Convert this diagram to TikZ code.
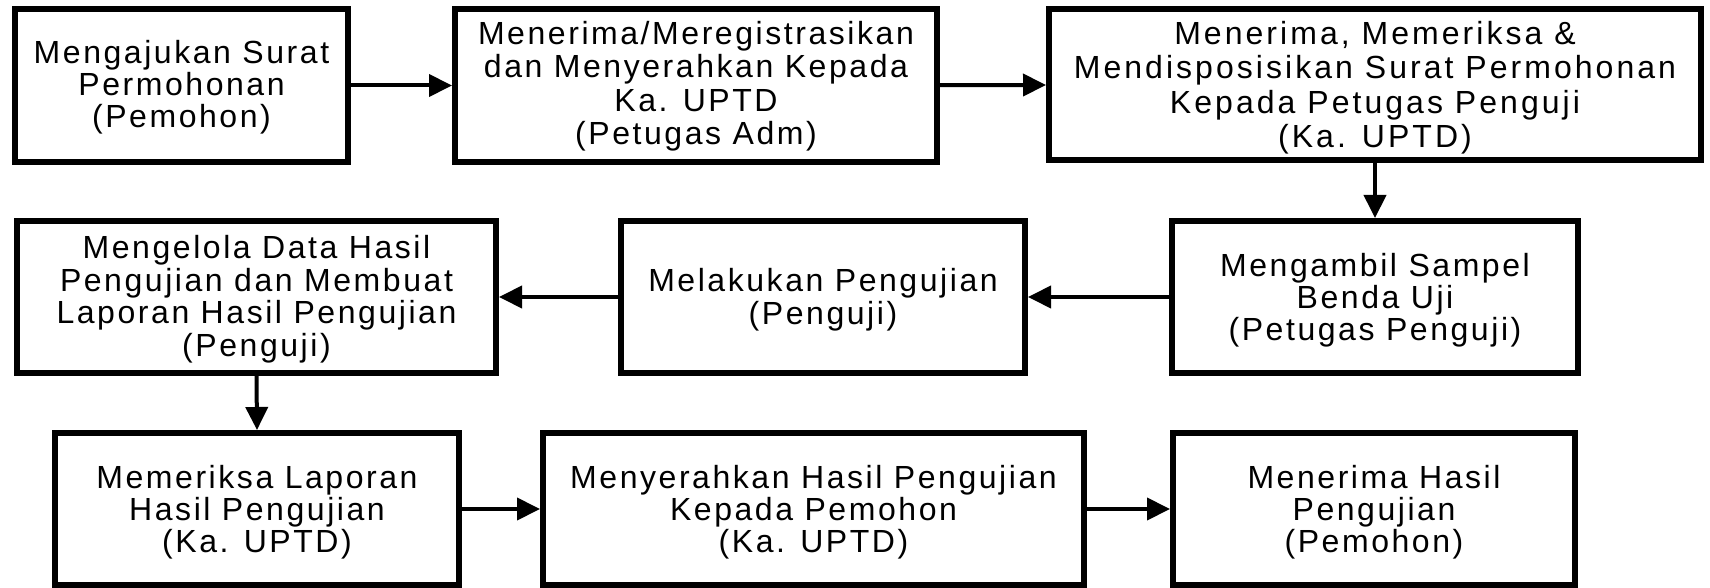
\documentclass[tikz,border=0pt]{standalone}
\usepackage{fontspec}
\setmainfont{Liberation Sans}[LetterSpace=8]
\usetikzlibrary{arrows.meta,shadows}
\definecolor{shadowblue}{RGB}{200,212,228}
\tikzset{
  stepbox/.style={draw=black, line width=6pt, fill=white, inner sep=0pt,
    drop shadow={shadow xshift=3pt, shadow yshift=-3pt, fill=shadowblue, opacity=0.6}},
  steptext/.style={inner sep=0pt, align=center, font=\fontsize{32}{#1}\selectfont},
  steptext/.default=32,
  conn/.style={line width=4pt, -{Triangle[length=23pt,width=22pt]}}
}
\begin{document}
\begin{tikzpicture}[x=1pt,y=-1pt]
\useasboundingbox (0,0) rectangle (1710,588);
% boxes
\node[stepbox, minimum width=333pt, minimum height=153pt] (b1) at (181.5,85.5) {};
\node[stepbox, minimum width=482pt, minimum height=153pt] (b2) at (696,85.5) {};
\node[stepbox, minimum width=652pt, minimum height=151pt] (b3) at (1375,84.5) {};
\node[stepbox, minimum width=479pt, minimum height=152pt] (b4) at (256.5,297) {};
\node[stepbox, minimum width=404pt, minimum height=152pt] (b5) at (823,297) {};
\node[stepbox, minimum width=406pt, minimum height=152pt] (b6) at (1375,297) {};
\node[stepbox, minimum width=404pt, minimum height=152pt] (b7) at (257,509) {};
\node[stepbox, minimum width=541pt, minimum height=152pt] (b8) at (813.5,509) {};
\node[stepbox, minimum width=402pt, minimum height=152pt] (b9) at (1374,509) {};
% texts
\node[steptext=32] (t1) at (181.5,87) {Mengajukan Surat\\Permohonan\\(Pemohon)};
\node[steptext=33.5] (t2) at (696,86) {Menerima/Meregistrasikan\\dan Menyerahkan Kepada\\Ka. UPTD\\(Petugas Adm)};
\node[steptext, font=\fontsize{32}{34.5}\selectfont\addfontfeature{LetterSpace=9.5}] (t3) at (1375,87.5) {Menerima, Memeriksa \&\\Mendisposisikan Surat Permohonan\\Kepada Petugas Penguji\\(Ka. UPTD)};
\node[steptext=32.5] (t4) at (256.5,299) {Mengelola Data Hasil\\Pengujian dan Membuat\\Laporan Hasil Pengujian\\(Penguji)};
\node[steptext=32.5] (t5) at (823,299.5) {Melakukan Pengujian\\(Penguji)};
\node[steptext=32] (t6) at (1375,300) {Mengambil Sampel\\Benda Uji\\(Petugas Penguji)};
\node[steptext=32] (t7) at (257,512) {Memeriksa Laporan\\Hasil Pengujian\\(Ka. UPTD)};
\node[steptext=32] (t8) at (813.5,512) {Menyerahkan Hasil Pengujian\\Kepada Pemohon\\(Ka. UPTD)};
\node[steptext=32] (t9) at (1374,512) {Menerima Hasil\\Pengujian\\(Pemohon)};
% connectors
\draw[conn] (b1) -- (b2);
\draw[conn] (b2) -- (b3);
\draw[conn] (b3) -- (b6);
\draw[conn] (b6) -- (b5);
\draw[conn] (b5) -- (b4);
\draw[conn] (b4.south) -- (b7.north);
\draw[conn] (b7) -- (b8);
\draw[conn] (b8) -- (b9);
\end{tikzpicture}
\end{document}
